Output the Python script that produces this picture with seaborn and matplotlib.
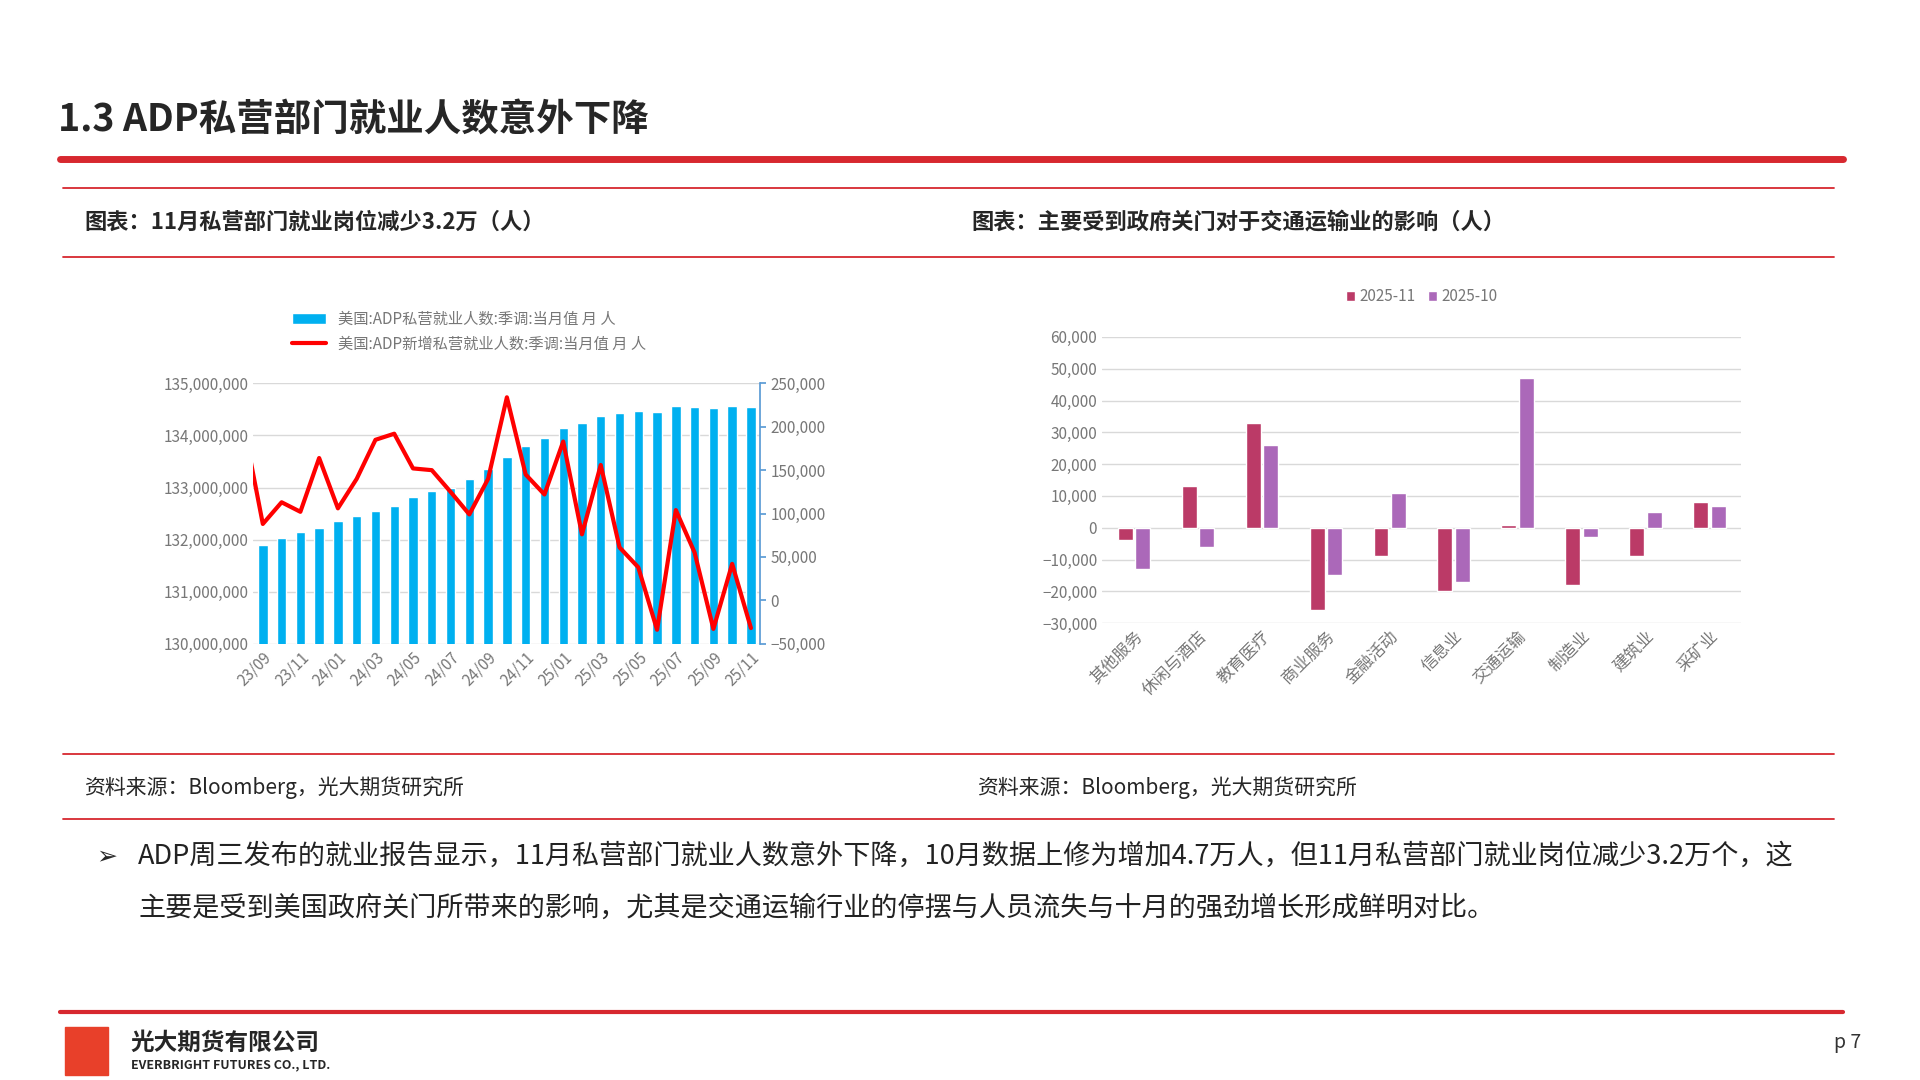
import matplotlib
matplotlib.use("Agg")
import matplotlib.pyplot as plt
import seaborn as sns
import numpy as np
import pandas as pd
from matplotlib.ticker import FuncFormatter

sns.set_theme(style="white")
plt.rcParams['font.family'] = ['Noto Sans CJK SC', 'DejaVu Sans']
plt.rcParams['axes.unicode_minus'] = False

months = ["23/08","23/09","23/10","23/11","23/12","24/01","24/02","24/03","24/04","24/05","24/06","24/07","24/08",
          "24/09","24/10","24/11","24/12","25/01","25/02","25/03","25/04","25/05","25/06",
          "25/07","25/08","25/09","25/10","25/11"]
employment = [np.nan,131.90,132.03,132.14,132.23,132.36,132.45,132.54,132.64,132.81,132.94,132.99,133.17,
              133.36,133.58,133.79,133.96,134.15,134.23,134.38,134.44,134.47,134.45,
              134.56,134.55,134.52,134.57,134.54]
change = [200,88,113,102,164,106,140,185,192,152,150,125,99,140,234,145,122,183,76,156,61,38,-34,104,55,-33,42,-32]

sectors = ["其他服务","休闲与酒店","教育医疗","商业服务","金融活动","信息业","交通运输","制造业","建筑业","采矿业"]
nov = [-4000,13000,33000,-26000,-9000,-20000,1000,-18000,-9000,8000]
octv = [-13000,-6000,26000,-15000,11000,-17000,47000,-3000,5000,7000]

fig = plt.figure(figsize=(19.2,10.8), dpi=100)
RED = "#d7282f"
fig.text(0.030, 0.889, "1.3 ADP私营部门就业人数意外下降", fontsize=27, fontweight='bold', va='center')
fig.add_artist(plt.Line2D([0.031,0.960],[0.853,0.853], color=RED, lw=5))
for y in [0.826,0.762,0.302,0.242]:
    fig.add_artist(plt.Line2D([0.033,0.955],[y,y], color=RED, lw=1.3))
fig.add_artist(plt.Line2D([0.031,0.960],[0.063,0.063], color=RED, lw=3))
fig.text(0.044,0.794,"图表：11月私营部门就业岗位减少3.2万（人）", fontsize=16, fontweight='bold', va='center')
fig.text(0.506,0.794,"图表：主要受到政府关门对于交通运输业的影响（人）", fontsize=16, fontweight='bold', va='center')
fig.text(0.044,0.271,"资料来源：Bloomberg，光大期货研究所", fontsize=15, style='italic', va='center')
fig.text(0.509,0.271,"资料来源：Bloomberg，光大期货研究所", fontsize=15, style='italic', va='center')
fig.text(0.050,0.207,"➢", fontsize=18, va='center', family=['DejaVu Sans'])
fig.text(0.072,0.207,"ADP周三发布的就业报告显示，11月私营部门就业人数意外下降，10月数据上修为增加4.7万人，但11月私营部门就业岗位减少3.2万个，这", fontsize=19.5, va='center', color='#222222')
fig.text(0.072,0.159,"主要是受到美国政府关门所带来的影响，尤其是交通运输行业的停摆与人员流失与十月的强劲增长形成鲜明对比。", fontsize=19.5, va='center', color='#222222')
fig.text(0.068,0.034,"光大期货有限公司", fontsize=17, fontweight='bold', va='center')
fig.text(0.068,0.014,"EVERBRIGHT FUTURES CO., LTD.", fontsize=9, fontweight='bold', va='center')
fig.patches.append(plt.Rectangle((0.034,0.005),0.022,0.044, transform=fig.transFigure, color="#e8402a"))
fig.text(0.955,0.035,"p 7", fontsize=14, va='center', color='#333333')

GRAY = "#777777"
# Left chart
ax = fig.add_axes([0.132,0.404,0.264,0.241])
x = np.arange(len(months))
df = pd.DataFrame({"m": x, "emp": employment, "chg": change})
ax.bar(df["m"], df["emp"], width=0.5, color="#00b0f0", label="美国:ADP私营就业人数:季调:当月值 月 人")
ax.set_ylim(130,135)
ax.set_xlim(0.5, len(months)-0.5)
ax.set_yticks(np.arange(130,135.1,1))
ax.yaxis.set_major_formatter(FuncFormatter(lambda v,p: f"{int(round(v*1e6)):,}"))
ax.grid(axis='y', color='#d9d9d9', lw=1)
ax.set_xticks(x[1::2])
ax.set_xticklabels(months[1::2], rotation=45, ha='right', rotation_mode='anchor')
for s in ax.spines.values(): s.set_visible(False)
ax.tick_params(colors=GRAY, labelsize=11, length=0)
ax2 = ax.twinx()
sns.lineplot(x=df["m"], y=df["chg"], ax=ax2, color="#ff0000", lw=3, label="美国:ADP新增私营就业人数:季调:当月值 月 人", legend=False)
ax2.set_ylim(-50,250)
ax2.set_yticks(np.arange(-50,251,50))
ax2.yaxis.set_major_formatter(FuncFormatter(lambda v,p: f"{int(v*1000):,}".replace("-","−")))
ax2.set_ylabel(""); ax2.set_xlabel("")
for k in ['top','left','bottom']: ax2.spines[k].set_visible(False)
ax2.spines['right'].set_color('#5b9bd5')
ax2.tick_params(colors=GRAY, labelsize=11, length=4, color='#5b9bd5')
h1,l1 = ax.get_legend_handles_labels(); h2,l2 = ax2.get_legend_handles_labels()
fig.legend(h1+h2, l1+l2, loc='center left', bbox_to_anchor=(0.145,0.693), frameon=False, fontsize=11, labelcolor=GRAY, handlelength=2.2)

# Right chart
bx = fig.add_axes([0.574,0.423,0.333,0.265])
long = pd.DataFrame({"sector": sectors*2, "val": nov+octv, "period": ["2025-11"]*10+["2025-10"]*10})
sns.barplot(data=long, x="sector", y="val", hue="period", palette=["#bb3a67","#ab68b9"], ax=bx, width=0.55, gap=0.15, saturation=1)
bx.set_ylim(-30000,60000)
bx.set_yticks(np.arange(-30000,60001,10000))
bx.yaxis.set_major_formatter(FuncFormatter(lambda v,p: f"{int(v):,}".replace("-","−")))
bx.grid(axis='y', color='#d9d9d9', lw=1)
bx.set_axisbelow(True)
bx.set_xlabel(""); bx.set_ylabel("")
for s in bx.spines.values(): s.set_visible(False)
bx.tick_params(colors=GRAY, labelsize=11, length=0)
plt.setp(bx.get_xticklabels(), rotation=45, ha='right', rotation_mode='anchor', fontsize=12)
bx.legend(loc='center', bbox_to_anchor=(0.5,1.14), ncol=2, frameon=False, fontsize=11, labelcolor=GRAY,
          handlelength=0.6, handleheight=0.6, columnspacing=0.8, handletextpad=0.3)

fig.savefig("out.png", dpi=100, facecolor='white')
